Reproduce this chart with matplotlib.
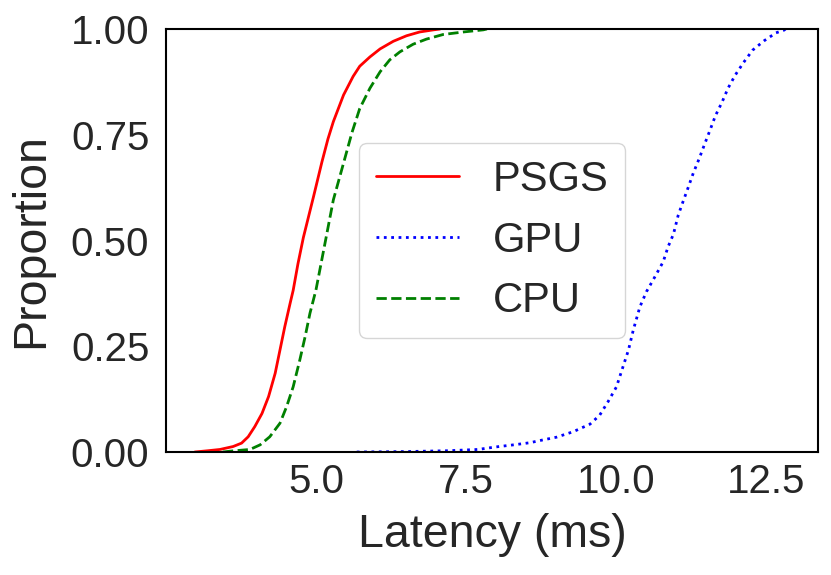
import matplotlib
matplotlib.use("Agg")
import matplotlib.pyplot as plt
import seaborn as sns

# ECDF curves: latency (ms) at each proportion
psgs_latency = [2.98, 3.20, 3.40, 3.62, 3.76, 3.87, 3.98, 4.10, 4.21, 4.32, 4.40, 4.48,
                4.57, 4.62, 4.70, 4.79, 4.96, 5.10, 5.20, 5.29, 5.46, 5.62, 5.73, 5.90,
                6.07, 6.29, 6.51, 6.73, 6.96, 7.07]
psgs_prop = [0.0, 0.003, 0.006, 0.013, 0.021, 0.036, 0.060, 0.091, 0.131, 0.186, 0.241,
             0.296, 0.352, 0.382, 0.445, 0.507, 0.604, 0.686, 0.740, 0.781, 0.844, 0.888,
             0.912, 0.934, 0.953, 0.971, 0.984, 0.993, 0.998, 1.0]

gpu_latency = [5.68, 6.50, 7.20, 7.70, 8.00, 8.30, 8.57, 8.73, 9.01, 9.29, 9.57, 9.73,
               9.87, 10.01, 10.12, 10.21, 10.29, 10.40, 10.51, 10.65, 10.79, 10.87, 10.96,
               11.04, 11.12, 11.21, 11.29, 11.39, 11.48, 11.57, 11.66, 11.77, 11.87, 11.99,
               12.13, 12.28, 12.47, 12.67, 12.80, 12.83]
gpu_prop = [0.0, 0.001, 0.003, 0.006, 0.012, 0.017, 0.022, 0.027, 0.035, 0.048, 0.066,
            0.087, 0.119, 0.154, 0.202, 0.241, 0.288, 0.343, 0.379, 0.414, 0.450, 0.485,
            0.515, 0.560, 0.592, 0.627, 0.659, 0.694, 0.728, 0.761, 0.795, 0.827, 0.860,
            0.891, 0.921, 0.950, 0.972, 0.991, 0.997, 1.0]

cpu_latency = [3.45, 3.57, 3.90, 4.07, 4.23, 4.40, 4.51, 4.62, 4.73, 4.82, 4.90, 5.00,
               5.15, 5.29, 5.46, 5.60, 5.73, 5.90, 6.07, 6.23, 6.40, 6.62, 6.84, 7.12,
               7.46, 7.79, 7.85]
cpu_prop = [0.0, 0.002, 0.006, 0.017, 0.036, 0.068, 0.107, 0.154, 0.217, 0.273, 0.328,
            0.383, 0.493, 0.596, 0.683, 0.755, 0.812, 0.860, 0.899, 0.927, 0.946, 0.964,
            0.976, 0.987, 0.993, 0.998, 1.0]

series_names = ["PSGS", "GPU", "CPU"]
x_ticks = [5.0, 7.5, 10.0, 12.5]
y_ticks = [0.00, 0.25, 0.50, 0.75, 1.00]

sns.set_style("white")
plt.rcParams['font.family'] = ['Liberation Sans', 'DejaVu Sans']
plt.rcParams['text.color'] = '.15'
plt.rcParams['axes.labelcolor'] = '.15'
plt.rcParams['xtick.color'] = '.15'
plt.rcParams['ytick.color'] = '.15'

fig = plt.figure(figsize=(8.31, 5.75), dpi=100)
ax = fig.add_axes([166 / 831, 1 - 452 / 575, (818 - 166) / 831, (452 - 29) / 575])

ax.plot(psgs_latency, psgs_prop, color='red', linestyle='-', lw=2, label=series_names[0])
ax.plot(gpu_latency, gpu_prop, color='blue', linestyle=':', lw=2, label=series_names[1])
ax.plot(cpu_latency, cpu_prop, color='green', linestyle='--', lw=2, label=series_names[2])

ax.set_xlim(2.5, 13.37)
ax.set_ylim(0, 1)
ax.set_xticks(x_ticks)
ax.set_xticklabels([f"{t:.1f}" for t in x_ticks])
ax.set_yticks(y_ticks)
ax.set_yticklabels([f"{t:.2f}" for t in y_ticks])
ax.tick_params(axis='both', labelsize=29, length=0)
ax.tick_params(axis='x', pad=8)
ax.tick_params(axis='y', pad=12)
ax.set_xlabel("Latency (ms)", fontsize=33.5, labelpad=8.5)
ax.set_ylabel("Proportion", fontsize=33.5, labelpad=13)

for sp in ax.spines.values():
    sp.set_color('black')
    sp.set_linewidth(1.5)

leg = ax.legend(loc='center', fontsize=30, frameon=True)
leg.get_frame().set_edgecolor('.8')

fig.savefig("out.png", dpi=100)
